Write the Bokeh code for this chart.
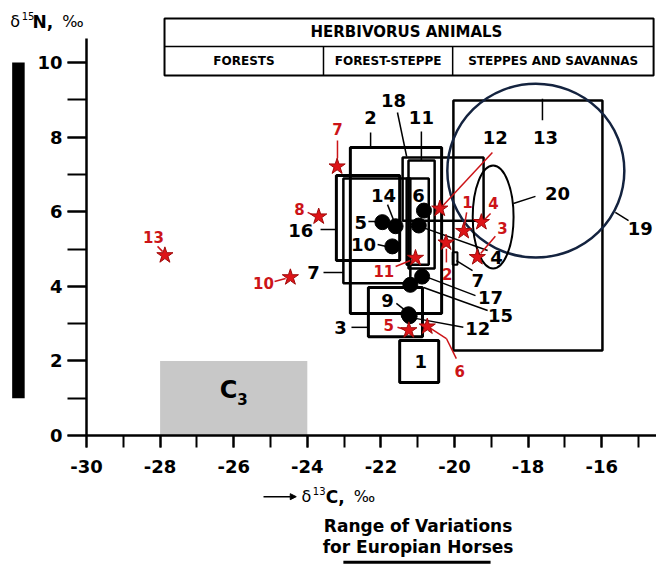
from bokeh.plotting import figure
from bokeh.models import (Range1d, LinearAxis, SingleIntervalTicker, Arrow, NormalHead,
                          ColumnDataSource, PrintfTickFormatter)
from bokeh.core.properties import value
from bokeh.embed import file_html
from bokeh.resources import INLINE

# ---------------- data ----------------
# herbivore ranges (rectangles): id, d13C min/max, d15N min/max
box_ids = ["1", "2", "3", "16", "7", "18", "11", "6b", "13", "7s"]
box_c_min = [-21.49, -22.83, -22.34, -23.21, -23.02, -21.41, -21.25, -21.30, -20.03, -20.05]
box_c_max = [-20.43, -20.35, -20.87, -21.49, -21.20, -19.21, -20.54, -20.70, -15.98, -19.92]
box_n_min = [1.42, 3.27, 2.65, 4.69, 4.08, 5.76, 4.48, 4.58, 2.28, 4.58]
box_n_max = [2.55, 7.72, 3.97, 6.97, 6.89, 7.45, 7.37, 6.89, 8.98, 4.91]
box_lw = [3, 3, 3, 3, 2.5, 2.5, 2.5, 2.5, 2.5, 2]

# herbivore ranges (ellipses)
ell_ids = ["19", "20"]
ell_c = [-17.79, -18.95]
ell_n = [7.10, 5.86]
ell_w = [4.81, 1.11]
ell_h = [4.66, 2.76]

# horse samples (black dots)
dot_ids = ["6", "14", "5", "10", "4", "17", "15", "9", "12"]
dot_c = [-20.83, -21.60, -21.96, -21.69, -20.97, -20.88, -21.20, -21.25, -21.22]
dot_n = [6.03, 5.61, 5.72, 5.07, 5.63, 4.26, 4.04, 3.25, 3.20]

# horse samples (red stars)
star_ids = ["7", "8", "13", "10", "12", "1", "4", "3", "2", "11", "5", "6"]
star_c = [-23.19, -23.69, -27.87, -24.46, -20.40, -19.75, -19.27, -19.38, -20.23, -21.06, -21.24, -20.74]
star_n = [7.21, 5.87, 4.83, 4.24, 6.08, 5.48, 5.72, 4.78, 5.17, 4.76, 2.82, 2.92]

# C3 plants range
c3_c = [-28.0, -24.0]
c3_n = [0.0, 2.0]

# range of variations for European horses (d15N)
horse_n_range = [1.0, 10.0]

# texts
table_title = "HERBIVORUS  ANIMALS"
table_cols = ["FORESTS", "FOREST-STEPPE", "STEPPES AND SAVANNAS"]
legend_lines = ["Range of Variations", "for Europian Horses"]

# ---------------- annotation layout ----------------
black_lab_text = ["1", "2", "18", "11", "14", "5", "10", "6", "16", "7", "3", "9", "12",
                  "17", "15", "4", "7", "13", "20", "19", "12"]
black_lab_x = [-20.92, -22.28, -21.66, -20.90, -21.93, -22.55, -22.47, -20.98, -24.18, -23.83,
               -23.10, -21.82, -19.37, -19.02, -18.75, -18.86, -19.37, -17.53, -17.20, -14.95, -18.89]
black_lab_y = [1.98, 8.53, 8.98, 8.53, 6.43, 5.71, 5.12, 6.43, 5.50, 4.37,
               2.90, 3.62, 2.87, 3.70, 3.22, 4.77, 4.16, 7.99, 6.49, 5.55, 7.99]

black_lead_x0 = [-22.28, -21.55, -20.90, -21.82, -22.34, -22.09, -23.64, -23.56, -22.80, -21.58,
                 -21.06, -20.73, -20.84, -20.87, -19.95, -17.61, -18.40, -15.63]
black_lead_y0 = [8.12, 8.66, 8.15, 6.19, 5.74, 5.12, 5.52, 4.37, 2.90, 3.54,
                 3.14, 4.24, 3.97, 5.58, 4.69, 9.03, 6.22, 5.98]
black_lead_x1 = [-22.28, -21.30, -20.90, -21.63, -22.09, -21.85, -23.21, -23.02, -22.34, -21.33,
                 -19.76, -19.43, -19.10, -19.10, -19.51, -17.61, -17.80, -15.27]
black_lead_y1 = [7.72, 7.48, 7.37, 5.71, 5.74, 5.07, 5.52, 4.37, 2.90, 3.35,
                 2.90, 3.75, 3.35, 4.96, 4.42, 8.45, 6.41, 5.76]

red_lab_text = ["7", "8", "13", "10", "1", "4", "3", "2", "11", "5", "6"]
red_lab_x = [-23.18, -24.21, -28.18, -25.19, -19.65, -18.94, -18.70, -20.20, -21.92, -21.79, -19.86]
red_lab_y = [8.23, 6.06, 5.31, 4.08, 6.25, 6.22, 5.55, 4.34, 4.42, 2.95, 1.74]

red_lead_x0 = [-23.18, -23.99, -28.07, -24.89, -19.67, -19.02, -18.89, -20.22, -21.60, -21.55, -18.97, -20.65, -20.22]
red_lead_y0 = [7.91, 5.98, 5.07, 4.13, 5.98, 5.95, 5.34, 4.64, 4.53, 2.90, 7.59, 2.87, 2.60]
red_lead_x1 = [-23.18, -23.83, -27.93, -24.59, -19.73, -19.18, -19.29, -20.22, -21.20, -21.36, -20.38, -20.22, -19.95]
red_lead_y1 = [7.43, 5.90, 4.93, 4.21, 5.63, 5.79, 4.88, 5.01, 4.69, 2.84, 6.09, 2.60, 2.06]

RED = "#cc1418"
FONT = value("DejaVu Sans")

# frame covers the whole canvas; axes are drawn at fixed data locations
p = figure(width=656, height=564, output_backend="svg", toolbar_location=None,
           x_range=Range1d(-32.337, -14.511), y_range=Range1d(-3.458, 11.662),
           x_axis_type=None, y_axis_type=None, min_border=0,
           min_border_left=0, min_border_right=0, min_border_top=0, min_border_bottom=0)
p.outline_line_color = None
p.background_fill_color = "white"
p.border_fill_color = "white"

xaxis = LinearAxis(ticker=SingleIntervalTicker(interval=2, num_minor_ticks=2),
                   formatter=PrintfTickFormatter(format="%d"),
                   bounds=(-30, -14.511), fixed_location=0)
yaxis = LinearAxis(ticker=SingleIntervalTicker(interval=2, num_minor_ticks=2),
                   formatter=PrintfTickFormatter(format="%d"),
                   bounds=(0, 10.64), fixed_location=-30)
for ax, tick_len, standoff in ((xaxis, 12, 12), (yaxis, 19, 5)):
    ax.axis_line_width = 2.5
    ax.major_tick_line_width = 2
    ax.minor_tick_line_width = 2
    ax.major_tick_in = 0
    ax.minor_tick_in = 0
    ax.major_tick_out = tick_len
    ax.minor_tick_out = tick_len
    ax.major_label_standoff = standoff
    ax.major_label_text_font = "DejaVu Sans"
    ax.major_label_text_font_style = "bold"
    ax.major_label_text_font_size = "18px"
    ax.major_label_text_color = "black"
p.add_layout(xaxis, "below")
p.add_layout(yaxis, "left")

# C3 range
p.quad(left=[c3_c[0]], right=[c3_c[1]], bottom=[c3_n[0]], top=[c3_n[1]],
       fill_color="#c8c8c8", line_color=None)
p.text(x=[-26.14], y=[1.23], text=["C"], text_align="center", text_baseline="middle",
       text_font=FONT, text_font_style="bold", text_font_size="24px")
p.text(x=[-25.76], y=[0.99], text=["3"], text_align="center", text_baseline="middle",
       text_font=FONT, text_font_style="bold", text_font_size="15px")

# table
tab_l, tab_r, tab_b, tab_m, tab_t = -27.88, -14.59, 9.65, 10.43, 11.18
tab_c1, tab_c2 = -23.56, -20.05
p.quad(left=[tab_l], right=[tab_r], bottom=[tab_b], top=[tab_t], fill_color=None,
       line_color="black", line_width=2)
p.segment(x0=[tab_l, tab_c1, tab_c2], y0=[tab_m, tab_b, tab_b],
          x1=[tab_r, tab_c1, tab_c2], y1=[tab_m, tab_m, tab_m], line_color="black", line_width=1.5)
p.text(x=[(tab_l + tab_r) / 2], y=[(tab_m + tab_t) / 2], text=[table_title],
       text_align="center", text_baseline="middle", text_font=FONT, text_font_style="bold",
       text_font_size="15px")
p.text(x=[(tab_l + tab_c1) / 2, (tab_c1 + tab_c2) / 2, (tab_c2 + tab_r) / 2],
       y=[(tab_b + tab_m) / 2] * 3, text=table_cols, text_align="center", text_baseline="middle",
       text_font=FONT, text_font_style="bold", text_font_size="12px")

# herbivore rectangles and ellipses
box_src = ColumnDataSource(dict(id=box_ids, l=box_c_min, r=box_c_max, b=box_n_min, t=box_n_max,
                                lw=box_lw))
p.quad(left="l", right="r", bottom="b", top="t", source=box_src, fill_color=None,
       line_color="black", line_width="lw")
p.ellipse(x=ell_c, y=ell_n, width=ell_w, height=ell_h, fill_color=None,
          line_color=["#14233f", "black"], line_width=[2.5, 2])

# leader lines
p.segment(x0=black_lead_x0, y0=black_lead_y0, x1=black_lead_x1, y1=black_lead_y1,
          line_color="black", line_width=1.5)
p.segment(x0=red_lead_x0, y0=red_lead_y0, x1=red_lead_x1, y1=red_lead_y1,
          line_color=RED, line_width=1.5)

# samples
p.scatter(x=dot_c, y=dot_n, marker="circle", size=15, fill_color="black", line_color="black")
p.scatter(x=star_c, y=star_n, marker="star", size=17, fill_color="#dd1418", line_color="#a00a0a",
          line_width=1)

# number labels
p.text(x=black_lab_x, y=black_lab_y, text=black_lab_text, text_align="center",
       text_baseline="middle", text_font=FONT, text_font_style="bold", text_font_size="18px",
       text_color="black")
p.text(x=red_lab_x, y=red_lab_y, text=red_lab_text, text_align="center",
       text_baseline="middle", text_font=FONT, text_font_style="bold", text_font_size="15px",
       text_color=RED)

# range bar for European horses
p.quad(left=[-32.02], right=[-31.68], bottom=[horse_n_range[0]], top=[horse_n_range[1]],
       fill_color="black", line_color=None)

# y-axis title  (delta 15 N, permille)
p.text(x=[-32.07], y=[11.09], text=["δ"], text_baseline="middle", text_font=FONT,
       text_font_size="16px")
p.text(x=[-31.76], y=[11.24], text=["15"], text_baseline="middle", text_font=FONT,
       text_font_size="10px")
p.text(x=[-31.47], y=[11.09], text=["N,"], text_baseline="middle", text_font=FONT,
       text_font_style="bold", text_font_size="17px")
p.text(x=[-30.66], y=[11.09], text=["‰"], text_baseline="middle", text_font=FONT,
       text_font_size="16px")

# x-axis title  (arrow, delta 13 C, permille)
p.add_layout(Arrow(end=NormalHead(size=6, fill_color="black", line_color="black", line_width=1),
                   x_start=-25.19, y_start=-1.64, x_end=-24.30, y_end=-1.64, line_width=1.5))
p.text(x=[-24.16], y=[-1.64], text=["δ"], text_baseline="middle", text_font=FONT,
       text_font_size="16px")
p.text(x=[-23.85], y=[-1.49], text=["13"], text_baseline="middle", text_font=FONT,
       text_font_size="10px")
p.text(x=[-23.50], y=[-1.64], text=["C,"], text_baseline="middle", text_font=FONT,
       text_font_style="bold", text_font_size="17px")
p.text(x=[-22.74], y=[-1.64], text=["‰"], text_baseline="middle", text_font=FONT,
       text_font_size="16px")

# legend for the range bar
p.text(x=[-20.99, -20.99], y=[-2.43, -2.99], text=legend_lines, text_align="center",
       text_baseline="middle", text_font=FONT, text_font_style="bold", text_font_size="17px")
p.quad(left=[-23.02], right=[-19.02], bottom=[-3.44], top=[-3.36], fill_color="black",
       line_color=None)

open("out.html", "w").write(file_html(p, INLINE))
